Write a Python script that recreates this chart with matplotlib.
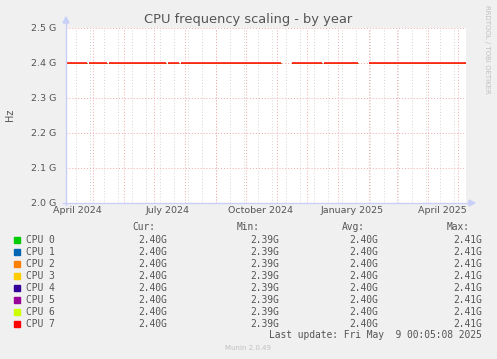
import datetime as dt
import numpy as np
import pandas as pd
import matplotlib
matplotlib.use("Agg")
import matplotlib.pyplot as plt

# data (all CPUs sit at ~2.40 GHz, line has gaps)
cpus = ["CPU 0", "CPU 1", "CPU 2", "CPU 3", "CPU 4", "CPU 5", "CPU 6", "CPU 7"]
colors = ["#00cc00", "#0066b3", "#ff8000", "#ffcc00", "#330099", "#990099", "#ccff00", "#ff0000"]
cur = ["2.40G"] * 8
mins = ["2.39G"] * 8
avgs = ["2.40G"] * 8
maxs = ["2.41G"] * 8
seg_start = ["2024-04-04", "2024-04-27", "2024-05-17", "2024-07-15", "2024-07-28",
             "2024-11-16", "2024-12-18", "2025-02-01"]
seg_end = ["2024-04-25", "2024-05-15", "2024-07-13", "2024-07-26", "2024-11-05",
           "2024-12-16", "2025-01-21", "2025-05-09"]
seg_value = [2.40e9, 2.40e9, 2.40e9, 2.40e9, 2.40e9, 2.40e9, 2.40e9, 2.40e9]
y_ticks = [2.0e9, 2.1e9, 2.2e9, 2.3e9, 2.4e9, 2.5e9]
x_labels = ["April 2024", "July 2024", "October 2024", "January 2025", "April 2025"]
x_label_dates = ["2024-04-15", "2024-07-15", "2024-10-15", "2025-01-15", "2025-04-15"]

W, H = 497, 359
BG = "#f0f0f0"
TXT = "#555555"


def fx(x):
    return x / W


def fy(y):
    return 1 - y / H


fig = plt.figure(figsize=(W / 100, H / 100), dpi=100, facecolor=BG)
ax = fig.add_axes([fx(66), fy(203), 400 / W, 175 / H])
ax.set_facecolor("white")

t0 = pd.Timestamp("2024-04-04")
t1 = pd.Timestamp("2025-05-09")
ax.set_xlim(t0, t1)
ax.set_ylim(2.0e9, 2.5e9)

# grid: gray every 14 days, red at month starts, red at each y tick
for d in pd.date_range("2024-04-14", t1, freq="14D"):
    ax.axvline(d, color="#d4d4d4", lw=0.7, ls=(0, (1, 2)), zorder=1)
for d in pd.date_range("2024-05-01", t1, freq="MS"):
    ax.axvline(d, color="#f2a8a8", lw=0.7, ls=(0, (1, 2)), zorder=1)
for v in y_ticks:
    ax.axhline(v, color="#f2a8a8", lw=0.7, ls=(0, (1, 2)), zorder=1)

# all cpus overlap; the last one drawn (CPU 7, red) covers the others
for i, col in enumerate(colors):
    lw = 1.1 if i == len(colors) - 1 else 0.6
    for s, e, v in zip(seg_start, seg_end, seg_value):
        ax.plot([pd.Timestamp(s), pd.Timestamp(e)], [v, v], color=col, lw=lw,
                solid_capstyle="butt", zorder=3)

ax.set_yticks(y_ticks)
ax.set_yticklabels(["%.1f G" % (v / 1e9) for v in y_ticks])
ax.set_xticks([pd.Timestamp(d) for d in x_label_dates])
ax.set_xticklabels(x_labels)
ax.tick_params(axis="both", length=0, labelsize=6.8, colors=TXT)
ax.tick_params(axis="y", pad=7)
ax.tick_params(axis="x", pad=2)
for sp in ax.spines.values():
    sp.set_visible(False)

# axes with arrows
acol = "#c8d0f8"
fig.add_artist(plt.Line2D([fx(66), fx(66)], [fy(205), fy(23)], color=acol, lw=1))
fig.add_artist(plt.Line2D([fx(63), fx(469)], [fy(203), fy(203)], color=acol, lw=1))
fig.add_artist(plt.Polygon([[fx(63), fy(23)], [fx(69), fy(23)], [fx(66), fy(17)]],
                           color=acol, transform=fig.transFigure))
fig.add_artist(plt.Polygon([[fx(469), fy(200)], [fx(469), fy(206)], [fx(475), fy(203)]],
                           color=acol, transform=fig.transFigure))

fig.text(fx(248), fy(19), "CPU frequency scaling - by year", ha="center", va="center",
         fontsize=9.4, color=TXT)
fig.text(fx(10), fy(115), "Hz", rotation=90, ha="center", va="center", fontsize=7, color=TXT)
fig.text(fx(487), fy(5), "RRDTOOL / TOBI OETIKER", rotation=270, ha="center", va="top",
         fontsize=5, color="#c0c0c0")

mono = dict(family="DejaVu Sans Mono", fontsize=6.9, color=TXT, va="center")
fig.text(fx(132), fy(227.5), "Cur:", ha="left", **mono)
fig.text(fx(237), fy(227.5), "Min:", ha="left", **mono)
fig.text(fx(342), fy(227.5), "Avg:", ha="left", **mono)
fig.text(fx(447), fy(227.5), "Max:", ha="left", **mono)
for i, name in enumerate(cpus):
    y = 239.7 + 12 * i
    fig.add_artist(plt.Rectangle((fx(14), fy(y + 3)), 6 / W, 6 / H, color=colors[i],
                                 transform=fig.transFigure))
    fig.text(fx(26.5), fy(y), name, ha="left", **mono)
    fig.text(fx(167), fy(y), cur[i], ha="right", **mono)
    fig.text(fx(279), fy(y), mins[i], ha="right", **mono)
    fig.text(fx(378), fy(y), avgs[i], ha="right", **mono)
    fig.text(fx(482), fy(y), maxs[i], ha="right", **mono)

fig.text(fx(482), fy(335), "Last update: Fri May  9 00:05:08 2025", ha="right", **mono)
fig.text(fx(248), fy(348), "Munin 2.0.49", ha="center", va="center", fontsize=5,
         color="#c0c0c0")

fig.savefig("out.png", dpi=100, facecolor=BG)
